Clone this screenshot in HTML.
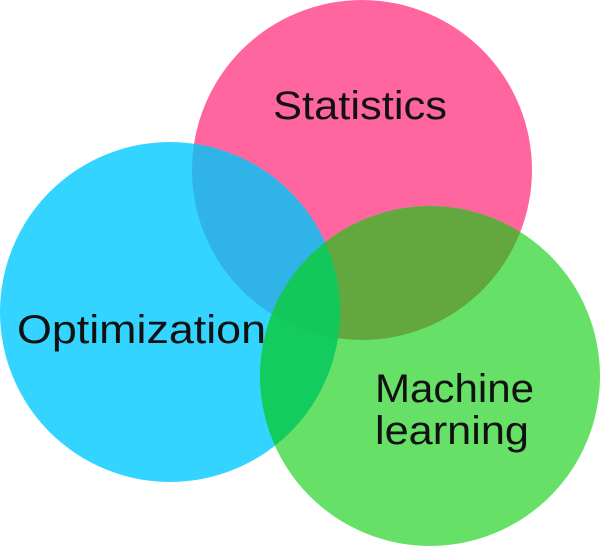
<!DOCTYPE html>
<html><head><style>html,body{margin:0;padding:0;background:#fff;}svg{display:block}</style></head>
<body>
<svg width="600" height="546" viewBox="0 0 600 546" xmlns="http://www.w3.org/2000/svg">
<defs>
<clipPath id="cp"><circle cx="362" cy="170" r="170"/></clipPath>
<clipPath id="cb"><circle cx="170" cy="312" r="170"/></clipPath>
<clipPath id="cg"><circle cx="430" cy="376" r="170"/></clipPath>
</defs>
<circle cx="362" cy="170" r="170" fill="#ff66a0"/>
<circle cx="170" cy="312" r="170" fill="#33d4ff"/>
<circle cx="430" cy="376" r="170" fill="#66e066"/>
<g clip-path="url(#cp)"><circle cx="170" cy="312" r="170" fill="#30b4e8"/><circle cx="430" cy="376" r="170" fill="#63a83f"/></g>
<g clip-path="url(#cb)"><circle cx="430" cy="376" r="170" fill="#13cc5e"/></g>
<g clip-path="url(#cp)"><g clip-path="url(#cb)"><circle cx="430" cy="376" r="170" fill="#13c85a"/></g></g>
<g font-family="'Liberation Sans', 'DejaVu Sans', sans-serif" font-size="40" fill="#111">
<text x="273" y="119" textLength="174" lengthAdjust="spacingAndGlyphs">Statistics</text>
<text x="17" y="343" textLength="249" lengthAdjust="spacingAndGlyphs">Optimization</text>
<text x="375" y="402" textLength="159" lengthAdjust="spacingAndGlyphs">Machine</text>
<text x="375" y="444" textLength="154" lengthAdjust="spacingAndGlyphs">learning</text>
</g>
</svg>
</body></html>
